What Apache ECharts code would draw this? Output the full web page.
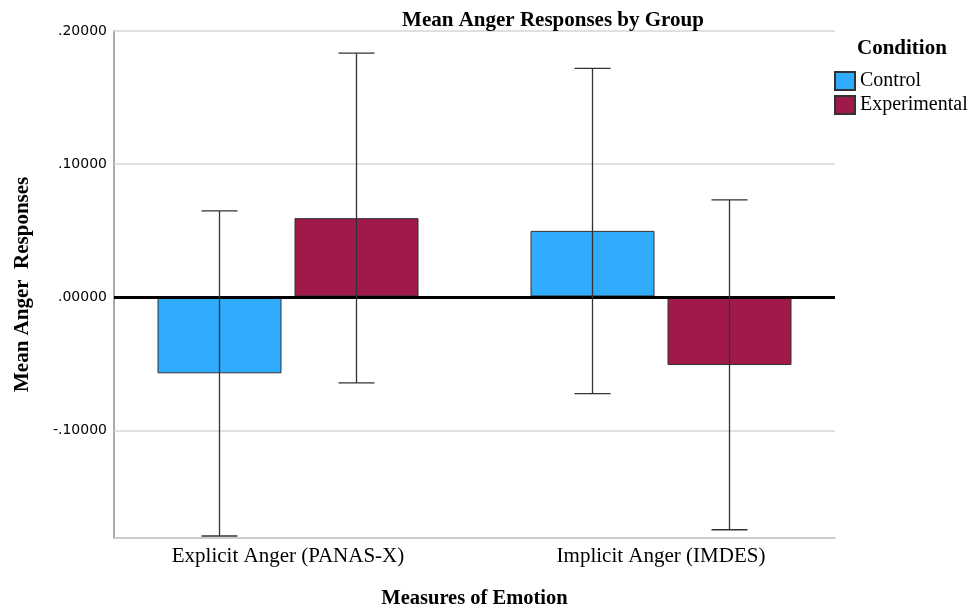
<!DOCTYPE html>
<html>
<head>
<meta charset="utf-8">
<script src="https://cdn.jsdelivr.net/npm/echarts@6/dist/echarts.min.js"></script>
<style>
  html, body { margin: 0; padding: 0; background: #fff; }
  #chart { width: 975px; height: 614px; }
</style>
</head>
<body>
<div id="chart"></div>
<script>
// Measures and group means with their error-bar limits
const categories = ['Explicit Anger (PANAS-X)', 'Implicit Anger (IMDES)'];
const groups = ['Control', 'Experimental'];
const controlMeans = [-0.0579, 0.0494];
const experimentalMeans = [0.0590, -0.0517];
const controlLow = [-0.1805, -0.0732];
const controlHigh = [0.0644, 0.1718];
const experimentalLow = [-0.0652, -0.1758];
const experimentalHigh = [0.1833, 0.0727];
const yTicks = [-0.1, 0, 0.1, 0.2];
const yMin = -0.1805;
const yMax = 0.2;

const SERIF = '"Liberation Serif", "Times New Roman", serif';
const SANS = '"DejaVu Sans", Verdana, sans-serif';
const COLORS = ['#30ACFD', '#A0194B'];
const BAR_W = 124;
const BAR_GAP = 13;
const CAP_W = 36;

function fmtTick(v) {
  if (Math.abs(v) < 1e-9) return '.00000';
  const s = Math.abs(v).toFixed(5).replace(/^0/, '');
  return (v < 0 ? '-' : '') + s;
}

const errData = [];
categories.forEach((c, i) => {
  errData.push([i, controlLow[i], controlHigh[i], 0]);
  errData.push([i, experimentalLow[i], experimentalHigh[i], 1]);
});

const chart = echarts.init(document.getElementById('chart'), null, { renderer: 'canvas' });

const option = {
  animation: false,
  title: [
    {
      text: 'Mean Anger Responses by Group',
      left: 553, top: 10, textAlign: 'center', padding: 0,
      textStyle: { fontFamily: SERIF, fontWeight: 'bold', fontSize: 21, color: '#000' }
    },
    {
      text: 'Condition',
      left: 857, top: 38, padding: 0,
      textStyle: { fontFamily: SERIF, fontWeight: 'bold', fontSize: 21, color: '#000' }
    }
  ],
  legend: {
    data: groups,
    orient: 'vertical',
    left: 834, top: 71, padding: 0,
    itemWidth: 20, itemHeight: 18, itemGap: 4,
    icon: 'rect',
    textStyle: { fontFamily: SERIF, fontSize: 20, lineHeight: 20, color: '#000' }
  },
  grid: [
    // frame: axes, gridlines, tick labels
    { left: 114, right: 140, top: 31, bottom: 76.3 },
    // data area with category bands
    { left: 101.5, right: 127.5, top: 31, bottom: 76.3 }
  ],
  xAxis: [
    {
      gridIndex: 0, type: 'value', min: 0, max: 1,
      axisLine: { show: true, onZero: false, lineStyle: { color: '#bdbdbd', width: 1.5 } },
      axisTick: { show: false }, axisLabel: { show: false }, splitLine: { show: false }
    },
    {
      gridIndex: 1, type: 'category', data: categories,
      axisLine: { show: false }, axisTick: { show: false }, splitLine: { show: false },
      axisLabel: { fontFamily: SERIF, fontSize: 21, color: '#000', margin: 10 },
      name: 'Measures of Emotion', nameLocation: 'middle', nameGap: 52,
      nameTextStyle: { fontFamily: SERIF, fontWeight: 'bold', fontSize: 20.5, color: '#000' }
    }
  ],
  yAxis: [
    {
      gridIndex: 0, type: 'value', min: yMin, max: yMax,
      axisLine: { show: true, lineStyle: { color: '#8c8c8c', width: 1.5 } },
      axisTick: { show: false },
      splitLine: { show: false },
      axisLabel: {
        customValues: yTicks,
        formatter: fmtTick,
        fontFamily: SANS, fontSize: 14, color: '#000', margin: 7
      },
      name: 'Mean Anger  Responses', nameLocation: 'middle', nameGap: 81,
      nameTextStyle: { fontFamily: SERIF, fontWeight: 'bold', fontSize: 21, color: '#000' }
    },
    {
      gridIndex: 1, type: 'value', min: yMin, max: yMax, show: false,
      splitLine: { show: false }
    }
  ],
  series: [
    {
      // gridlines across the frame
      type: 'line', xAxisIndex: 0, yAxisIndex: 0, data: [], symbol: 'none', silent: true,
      markLine: {
        silent: true, symbol: 'none', label: { show: false }, animation: false,
        data: [
          { yAxis: 0.2, lineStyle: { color: '#d6d6d6', width: 1.5, type: 'solid' } },
          { yAxis: 0.1, lineStyle: { color: '#d6d6d6', width: 1.5, type: 'solid' } },
          { yAxis: -0.1, lineStyle: { color: '#d6d6d6', width: 1.5, type: 'solid' } }
        ]
      }
    },
    {
      name: groups[0], type: 'bar', xAxisIndex: 1, yAxisIndex: 1,
      data: controlMeans, barWidth: BAR_W, barGap: (BAR_GAP / BAR_W * 100) + '%',
      itemStyle: { color: COLORS[0], borderColor: '#333', borderWidth: 1 }
    },
    {
      name: groups[1], type: 'bar', xAxisIndex: 1, yAxisIndex: 1,
      data: experimentalMeans, barWidth: BAR_W,
      itemStyle: { color: COLORS[1], borderColor: '#333', borderWidth: 1 }
    },
    {
      // zero reference line drawn above the bars
      type: 'line', xAxisIndex: 0, yAxisIndex: 0, data: [], symbol: 'none', silent: true, z: 5,
      markLine: {
        silent: true, symbol: 'none', label: { show: false }, animation: false,
        data: [{ yAxis: 0, lineStyle: { color: '#000', width: 3.2, type: 'solid' } }]
      }
    },
    {
      type: 'custom', xAxisIndex: 1, yAxisIndex: 1, z: 6, silent: true,
      data: errData,
      renderItem: function (params, api) {
        const cat = api.value(0);
        const lo = api.value(1), hi = api.value(2), g = api.value(3);
        const center = api.coord([cat, 0])[0];
        const off = (g === 0 ? -1 : 1) * (BAR_W + BAR_GAP) / 2;
        const x = center + off;
        const yLo = api.coord([cat, lo])[1];
        const yHi = api.coord([cat, hi])[1];
        const st = { stroke: '#333', lineWidth: 1.3 };
        return {
          type: 'group',
          children: [
            { type: 'line', shape: { x1: x, y1: yHi, x2: x, y2: yLo }, style: st },
            { type: 'line', shape: { x1: x - CAP_W / 2, y1: yHi, x2: x + CAP_W / 2, y2: yHi }, style: st },
            { type: 'line', shape: { x1: x - CAP_W / 2, y1: yLo, x2: x + CAP_W / 2, y2: yLo }, style: st }
          ]
        };
      }
    }
  ]
};

chart.setOption(option);
</script>
</body>
</html>
